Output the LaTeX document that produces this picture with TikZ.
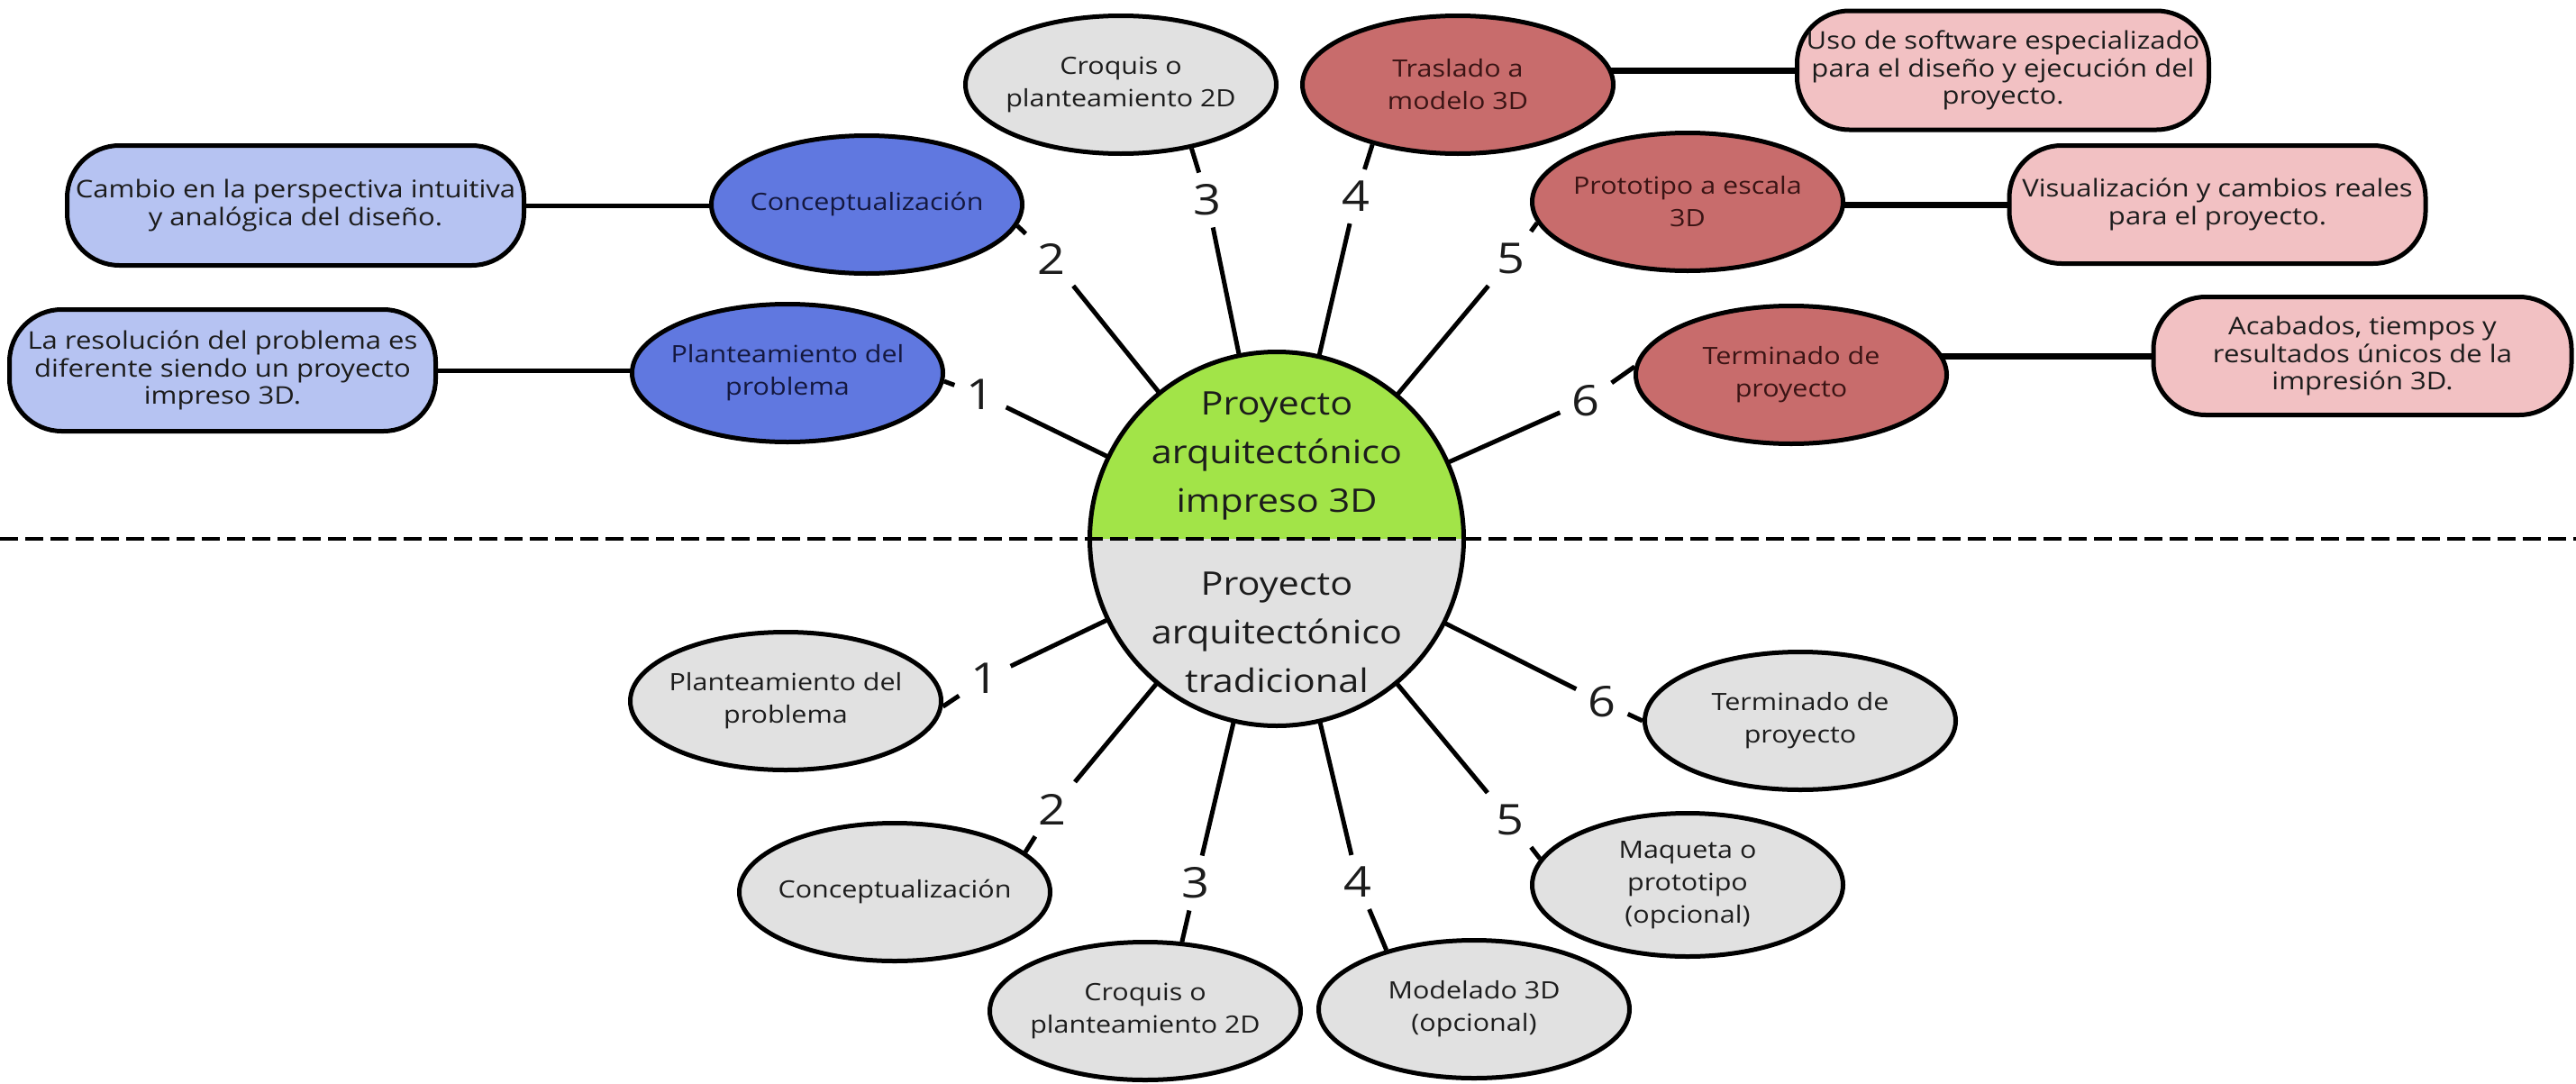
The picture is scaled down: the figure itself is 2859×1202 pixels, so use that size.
\documentclass[tikz,border=0pt]{standalone}
\usepackage{fontspec}
\setmainfont{Open Sans}[FakeStretch=1.15]
\usetikzlibrary{shapes.geometric}
\pgfdeclarelayer{back}
\pgfsetlayers{back,main}
\definecolor{cblue}{HTML}{6078E0}
\definecolor{lblue}{HTML}{B6C3F2}
\definecolor{cred}{HTML}{C86C6C}
\definecolor{lpink}{HTML}{F2C1C3}
\definecolor{cgray}{HTML}{E1E1E1}
\definecolor{cgreen}{HTML}{A2E448}
\definecolor{txt}{HTML}{1C1C1C}
\definecolor{txtblue}{HTML}{14183F}
\definecolor{txtred}{HTML}{3A1414}
\newcommand\fntell{\fontsize{26.5}{36}\selectfont}
\newcommand\fntbx{\fontsize{27}{30.5}\selectfont}
\newcommand\fntnum{\fontsize{47}{52}\selectfont}
\newcommand\fntctr{\fontsize{36}{54}\selectfont}
\begin{document}
\begin{tikzpicture}[x=1pt,y=-1pt,
  ell/.style={ellipse, draw=black, line width=5pt, minimum width=345pt, minimum height=153pt,
    inner xsep=-25pt, inner ysep=-5pt, align=center, font=\fntell, text=txt},
  blueell/.style={ell, fill=cblue, text=txtblue},
  redell/.style={ell, fill=cred, text=txtred},
  grayell/.style={ell, fill=cgray},
  infobox/.style={rectangle, draw=black, line width=5pt, rounded corners=58pt, align=center,
    font=\fntbx, text=txt, inner sep=0pt},
  bluebox/.style={infobox, fill=lblue},
  pinkbox/.style={infobox, fill=lpink},
  num/.style={font=\fntnum, inner sep=13pt, text=txt},
  ctrtext/.style={font=\fntctr, align=center, text=txt},
  bluelink/.style={line width=5pt},
  redlink/.style={line width=7pt},
  spoke/.style={line width=5pt},
  divider/.style={line width=4pt, dash pattern=on 20pt off 8pt}
]
\useasboundingbox (0,0) rectangle (2859,1202);

% central circle
\node[circle, minimum size=415pt, inner sep=0pt] (c) at (1417,598) {};
\begin{scope}
  \clip (c.west |- c.north) rectangle (c.east);
  \fill[cgreen] (c.center) circle[radius=207.5pt];
\end{scope}
\begin{scope}
  \clip (c.west) rectangle (c.east |- c.south);
  \fill[cgray] (c.center) circle[radius=207.5pt];
\end{scope}
\coordinate (dl) at (0,598);
\coordinate (dr) at (2859,598);
\draw[divider] (dl) -- (dr);
\draw[line width=5pt] (c.center) circle[radius=207.5pt];
\node[ctrtext] (ctop) at (1417,506) {Proyecto\\arquitectónico\\impreso 3D};
\node[ctrtext] (cbot) at (1417,702) {Proyecto\\arquitectónico\\tradicional};

% top half
\node[bluebox, minimum width=507pt, minimum height=133pt] (cambio) at (328,228)
  {Cambio en la perspectiva intuitiva\\y analógica del diseño.};
\node[blueell] (concep) at (962,227) {Conceptualización};
\node[bluebox, minimum width=473pt, minimum height=135pt] (resol) at (247,411)
  {La resolución del problema es\\diferente siendo un proyecto\\impreso 3D.};
\node[blueell] (plant) at (874,414) {Planteamiento del\\problema};
\node[grayell] (croq) at (1244,94) {Croquis o\\planteamiento 2D};
\node[redell] (trasl) at (1618,94) {Traslado a\\modelo 3D};
\node[pinkbox, minimum width=457pt, minimum height=132pt] (uso) at (2223,78)
  {Uso de software especializado\\para el diseño y ejecución del\\proyecto.};
\node[redell] (proto) at (1873,224) {Prototipo a escala\\3D};
\node[pinkbox, minimum width=462pt, minimum height=131pt] (visual) at (2461,227)
  {Visualización y cambios reales\\para el proyecto.};
\node[redell] (term) at (1988,416) {Terminado de\\proyecto};
\node[pinkbox, minimum width=464pt, minimum height=131pt] (acab) at (2622,395)
  {Acabados, tiempos y\\resultados únicos de la\\impresión 3D.};

% bottom half
\node[grayell] (plantb) at (872,778) {Planteamiento del\\problema};
\node[grayell] (concepb) at (993,990) {Conceptualización};
\node[grayell] (croqb) at (1271,1122) {Croquis o\\planteamiento 2D};
\node[grayell] (model) at (1636,1120) {Modelado 3D\\(opcional)};
\node[grayell, minimum height=159pt] (maq) at (1873,982) {Maqueta o\\prototipo\\(opcional)};
\node[grayell] (termb) at (1998,800) {Terminado de\\proyecto};

% numbers
\node[num] (t1) at (1088,438) {1};
\node[num] (t2) at (1167,287) {2};
\node[num] (t3) at (1340,222) {3};
\node[num] (t4) at (1505,218) {4};
\node[num] (t5) at (1677,287) {5};
\node[num] (t6) at (1760,445) {6};
\node[num] (b1) at (1093,753) {1};
\node[num] (b2) at (1168,898) {2};
\node[num] (b3) at (1327,980) {3};
\node[num] (b4) at (1507,979) {4};
\node[num] (b5) at (1676,910) {5};
\node[num] (b6) at (1778,779) {6};

\begin{pgfonlayer}{back}
  \draw[bluelink] (cambio.east) -- (cambio.east -| concep.center);
  \draw[bluelink] (resol.east) -- (resol.east -| plant.center);
  \draw[redlink] (uso.west) -- (uso.west -| trasl.center);
  \draw[redlink] (visual.west) -- (visual.west -| proto.center);
  \draw[redlink] (acab.west) -- (acab.west -| term.center);

  \draw[spoke] (c) -- (t1);  \draw[spoke] (t1) -- (plant.-3);
  \draw[spoke] (c) -- (t2);  \draw[spoke] (t2) -- (concep.-8);
  \draw[spoke] (c) -- (t3);  \draw[spoke] (t3) -- (croq.-42);
  \draw[spoke] (c) -- (t4);  \draw[spoke] (t4) -- (trasl.-145);
  \draw[spoke] (c) -- (t5);  \draw[spoke] (t5) -- (proto.-172);
  \draw[spoke] (c) -- (t6);  \draw[spoke] (t6) -- (term.177);

  \draw[spoke] (c) -- (b1);  \draw[spoke] (b1) -- (plantb.-2);
  \draw[spoke] (c) -- (b2);  \draw[spoke] (b2) -- (concepb.17);
  \draw[spoke] (c) -- (b3);  \draw[spoke] (b3) -- (croqb.62);
  \draw[spoke] (c) -- (b4);  \draw[spoke] (b4) -- (model.146);
  \draw[spoke] (c) -- (b5);  \draw[spoke] (b5) -- (maq.170);
  \draw[spoke] (c) -- (b6);  \draw[spoke] (b6) -- (termb.180);
\end{pgfonlayer}
\end{tikzpicture}
\end{document}
